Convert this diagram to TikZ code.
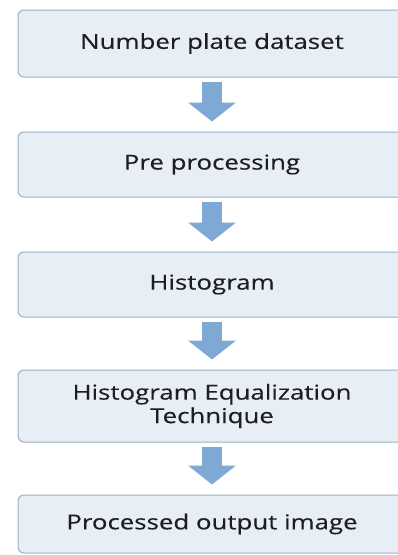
\documentclass[tikz,border=0pt]{standalone}
\usepackage{fontspec}
\setmainfont{Open Sans}
\newfontfamily\widesans[FakeStretch=1.26,FakeBold=0.3]{Open Sans}
\usetikzlibrary{arrows.meta}
\definecolor{boxfill}{HTML}{E8EEF6}
\definecolor{boxline}{HTML}{9FB0C6}
\definecolor{flowblue}{HTML}{7EA9D5}
\definecolor{textgrey}{HTML}{1E1E1E}
\begin{document}
\begin{tikzpicture}[x=1pt,y=-1pt,
  stepbox/.style={draw=boxline, line width=1pt, fill=boxfill, rounded corners=6pt,
    minimum width=388pt, inner sep=0pt, align=center, text=textgrey,
    font=\widesans\fontsize{20.5}{23.5}\selectfont},
  flowarrow/.style={draw=flowblue, line width=20pt,
    -{Triangle[width=47pt,length=19pt,fill=flowblue]},
    shorten <=4pt, shorten >=10pt}]
  \useasboundingbox (0,0) rectangle (397,555);
  \fill[white] (0,0) rectangle (397,555);
  % process steps
  \node[stepbox, minimum height=67pt] (s1) at (212,43.5) {Number plate dataset};
  \node[stepbox, minimum height=65pt] (s2) at (212,164.5) {Pre processing};
  \node[stepbox, minimum height=65pt] (s3) at (212,284.5) {Histogram};
  \node[stepbox, minimum height=72pt] (s4) at (212,406) {Histogram Equalization\\Technique};
  \node[stepbox, minimum height=58pt] (s5) at (212,524) {Processed output image};
  % flow arrows
  \draw[flowarrow] (s1.south) -- (s2.north);
  \draw[flowarrow] (s2.south) -- (s3.north);
  \draw[flowarrow] (s3.south) -- (s4.north);
  \draw[flowarrow] (s4.south) -- (s5.north);
\end{tikzpicture}
\end{document}
